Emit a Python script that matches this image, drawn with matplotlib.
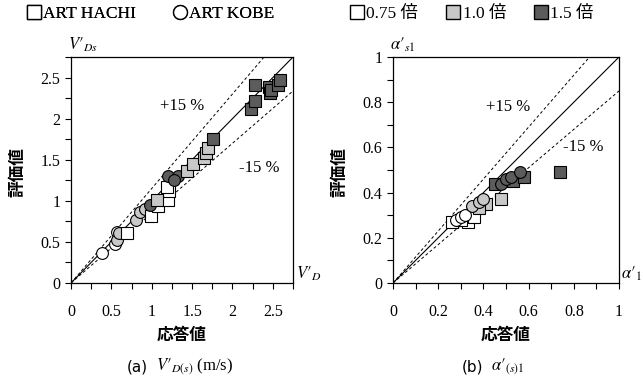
import matplotlib
matplotlib.use("Agg")
import matplotlib.pyplot as plt
import numpy as np
from matplotlib.lines import Line2D
from matplotlib.ticker import MultipleLocator

plt.rcParams["font.family"] = ["Liberation Serif", "Noto Sans CJK JP"]
plt.rcParams["mathtext.fontset"] = "stix"

# --- data: (a) V'_D(s), response (x) vs evaluated (y) ---
a_hachi_075_x = [0.69, 0.99, 1.08, 1.20, 1.21, 1.19]
a_hachi_075_y = [0.61, 0.81, 0.94, 1.01, 1.12, 1.17]
a_hachi_10_x = [1.06, 1.44, 1.51, 1.65, 1.67, 1.70]
a_hachi_10_y = [1.01, 1.36, 1.45, 1.52, 1.58, 1.64]
a_hachi_15_x = [1.76, 2.23, 2.28, 2.28, 2.45, 2.47, 2.48, 2.56, 2.59]
a_hachi_15_y = [1.75, 2.12, 2.22, 2.41, 2.38, 2.31, 2.35, 2.41, 2.47]
a_kobe_075_x = [0.38, 0.55, 0.57]
a_kobe_075_y = [0.36, 0.48, 0.62]
a_kobe_10_x = [0.57, 0.59, 0.80, 0.86, 0.92]
a_kobe_10_y = [0.52, 0.61, 0.77, 0.87, 0.90]
a_kobe_15_x = [0.98, 1.20, 1.33, 1.28]
a_kobe_15_y = [0.95, 1.30, 1.30, 1.25]
a_ticks = [0, 0.5, 1, 1.5, 2, 2.5]
a_ticklabels = ["0", "0.5", "1", "1.5", "2", "2.5"]

# --- data: (b) alpha'_(s)1 ---
b_hachi_075_x = [0.26, 0.33, 0.36, 0.30]
b_hachi_075_y = [0.27, 0.27, 0.29, 0.28]
b_hachi_10_x = [0.41, 0.48, 0.38]
b_hachi_10_y = [0.35, 0.37, 0.33]
b_hachi_15_x = [0.45, 0.53, 0.58, 0.74]
b_hachi_15_y = [0.44, 0.45, 0.47, 0.49]
b_kobe_075_x = [0.28, 0.30, 0.32]
b_kobe_075_y = [0.28, 0.29, 0.30]
b_kobe_10_x = [0.35, 0.38, 0.40]
b_kobe_10_y = [0.34, 0.36, 0.37]
b_kobe_15_x = [0.48, 0.50, 0.52, 0.56]
b_kobe_15_y = [0.44, 0.46, 0.47, 0.49]
b_ticks = [0, 0.2, 0.4, 0.6, 0.8, 1.0]
b_ticklabels = ["0", "0.2", "0.4", "0.6", "0.8", "1"]

WHITE, LIGHT, DARK = "#ffffff", "#c8c8c8", "#5c5c5c"
MS = 8.5
PR = "\u2032"  # prime


def draw_panel(ax, groups, lim, ticks, ticklabels, minor):
    line = np.array([0, lim])
    ax.plot(line, line, color="black", lw=0.8, zorder=1)
    ax.plot(line, 1.15 * line, color="black", lw=0.7, ls=(0, (3, 2.5)), zorder=1)
    ax.plot(line, 0.85 * line, color="black", lw=0.7, ls=(0, (3, 2.5)), zorder=1)
    for x, y, marker, color in groups:
        ax.plot(x, y, ls="none", marker=marker, ms=MS, mfc=color, mec="black", mew=0.8, zorder=3)
    ax.set_xlim(0, lim)
    ax.set_ylim(0, lim)
    ax.set_xticks(ticks)
    ax.set_xticklabels(ticklabels)
    ax.set_yticks(ticks)
    ax.set_yticklabels(ticklabels)
    ax.xaxis.set_minor_locator(MultipleLocator(minor))
    ax.yaxis.set_minor_locator(MultipleLocator(minor))
    ax.tick_params(which="both", direction="out", length=4, width=0.8, labelsize=11.5)
    ax.tick_params(axis="x", pad=11)
    for s in ax.spines.values():
        s.set_linewidth(0.9)


fig = plt.figure(figsize=(6.43, 3.83), dpi=100)
ax1 = fig.add_axes([0.1104, 0.2611, 0.3453, 0.590])
ax2 = fig.add_axes([0.6112, 0.2611, 0.3515, 0.590])

draw_panel(ax1, [
    (a_kobe_075_x, a_kobe_075_y, "o", WHITE),
    (a_kobe_10_x, a_kobe_10_y, "o", LIGHT),
    (a_hachi_075_x, a_hachi_075_y, "s", WHITE),
    (a_kobe_15_x, a_kobe_15_y, "o", DARK),
    (a_hachi_10_x, a_hachi_10_y, "s", LIGHT),
    (a_hachi_15_x, a_hachi_15_y, "s", DARK),
], 2.75, a_ticks, a_ticklabels, 0.25)
ax1.text(1.38, 2.15, "+15 %", ha="center", va="center", fontsize=12)
ax1.text(2.33, 1.40, "-15 %", ha="center", va="center", fontsize=12)

draw_panel(ax2, [
    (b_hachi_075_x, b_hachi_075_y, "s", WHITE),
    (b_kobe_075_x, b_kobe_075_y, "o", WHITE),
    (b_hachi_10_x, b_hachi_10_y, "s", LIGHT),
    (b_kobe_10_x, b_kobe_10_y, "o", LIGHT),
    (b_hachi_15_x, b_hachi_15_y, "s", DARK),
    (b_kobe_15_x, b_kobe_15_y, "o", DARK),
], 1.0, b_ticks, b_ticklabels, 0.1)
ax2.text(0.51, 0.78, "+15 %", ha="center", va="center", fontsize=12)
ax2.text(0.84, 0.60, "-15 %", ha="center", va="center", fontsize=12)

# axis corner symbols
fig.text(68 / 643, 1 - 45 / 383, "$V" + PR + "_{Ds}$", fontsize=12, ha="left", va="center")
fig.text(296 / 643, 1 - 274 / 383, "$V" + PR + "_{D}$", fontsize=12, ha="left", va="center")
fig.text(390 / 643, 1 - 45 / 383, r"$\alpha" + PR + "_{s1}$", fontsize=12, ha="left", va="center")
fig.text(621 / 643, 1 - 274 / 383, r"$\alpha" + PR + "_{1}$", fontsize=12, ha="left", va="center")

# axis titles
jp_bold = dict(family="Noto Sans CJK JP", fontweight="bold", fontsize=12)
fig.text(18 / 643, 1 - 172 / 383, "評価値", rotation=90, ha="center", va="center", **jp_bold)
fig.text(340 / 643, 1 - 172 / 383, "評価値", rotation=90, ha="center", va="center", **jp_bold)
fig.text(182 / 643, 1 - 335 / 383, "応答値", ha="center", va="center", **jp_bold)
fig.text(506 / 643, 1 - 335 / 383, "応答値", ha="center", va="center", **jp_bold)

# captions
fig.text(148 / 643, 1 - 367 / 383, "(a)", family="DejaVu Sans", fontsize=11, ha="right", va="center")
fig.text(156 / 643, 1 - 367 / 383, "$V" + PR + "_{D(s)}$ (m/s)", fontsize=12, ha="left", va="center")
fig.text(483 / 643, 1 - 367 / 383, "(b)", family="DejaVu Sans", fontsize=11, ha="right", va="center")
fig.text(491 / 643, 1 - 367 / 383, r"$\alpha" + PR + "_{(s)1}$", fontsize=12, ha="left", va="center")

# legends
h1 = [Line2D([], [], ls="none", marker="s", ms=10, mfc="white", mec="black", mew=1.0),
      Line2D([], [], ls="none", marker="o", ms=10, mfc="white", mec="black", mew=1.0)]
leg1 = fig.legend(h1, ["ART HACHI", "ART KOBE"], loc="center left", bbox_to_anchor=(27 / 643, 1 - 14 / 383),
                  ncol=2, frameon=False, fontsize=12.5, handlelength=0.8, handletextpad=0.15,
                  columnspacing=2.1, borderpad=0, borderaxespad=0)
h2 = [Line2D([], [], ls="none", marker="s", ms=10, mfc=c, mec="black", mew=1.0) for c in (WHITE, LIGHT, DARK)]
fig.legend(h2, ["0.75 倍", "1.0 倍", "1.5 倍"], loc="center left", bbox_to_anchor=(350 / 643, 1 - 14 / 383),
           ncol=3, frameon=False, fontsize=12.5, handlelength=0.8, handletextpad=0.15,
           columnspacing=1.6, borderpad=0, borderaxespad=0)
fig.add_artist(leg1)

fig.savefig("out.png", dpi=100)
